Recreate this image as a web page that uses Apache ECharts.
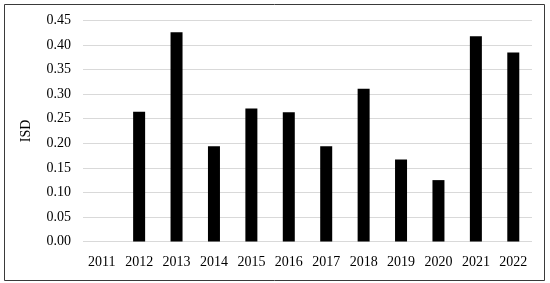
<!DOCTYPE html>
<html>
<head>
<meta charset="utf-8">
<script src="https://cdn.jsdelivr.net/npm/echarts@6/dist/echarts.min.js"></script>
<style>
  html, body { margin: 0; padding: 0; background: #fff; }
  #chart { width: 550px; height: 283px; }
</style>
</head>
<body>
<div id="chart"></div>
<script>
// 年份
var years = ["2011", "2012", "2013", "2014", "2015", "2016", "2017", "2018", "2019", "2020", "2021", "2022"];
// ISD 值 (2011 无数据)
var isdValues = [null, 0.264, 0.426, 0.194, 0.271, 0.263, 0.194, 0.311, 0.167, 0.125, 0.418, 0.385];

var myChart = echarts.init(document.getElementById("chart"));
var serif = "'Liberation Serif', 'DejaVu Serif', serif";

var option = {
  backgroundColor: "#fff",
  animation: false,
  graphic: [
    {
      type: "rect",
      shape: { x: 4.5, y: 4.5, width: 540, height: 276 },
      style: { fill: "none", stroke: "#3a3a3a", lineWidth: 1 },
      silent: true,
    },
  ],
  grid: {
    top: 20.5,
    left: 83,
    right: 18,
    bottom: 41.5,
  },
  xAxis: {
    type: "category",
    data: years,
    axisLine: { show: false },
    axisTick: { show: false },
    axisLabel: {
      color: "#000",
      fontFamily: serif,
      fontSize: 14,
      margin: 14,
    },
  },
  yAxis: {
    type: "value",
    min: 0,
    max: 0.45,
    interval: 0.05,
    name: "ISD",
    nameLocation: "middle",
    nameGap: 50,
    nameTextStyle: {
      color: "#000",
      fontFamily: serif,
      fontSize: 14,
      fontWeight: "normal",
    },
    axisLine: { show: false },
    axisTick: { show: false },
    splitLine: {
      show: true,
      lineStyle: { color: "#d9d9d9", width: 1 },
    },
    axisLabel: {
      color: "#000",
      fontFamily: serif,
      fontSize: 14,
      margin: 12,
      formatter: function (v) {
        return v.toFixed(2);
      },
    },
  },
  series: [
    {
      type: "bar",
      data: isdValues,
      barWidth: 12,
      itemStyle: { color: "#000" },
    },
  ],
};
option && myChart.setOption(option);
</script>
</body>
</html>
